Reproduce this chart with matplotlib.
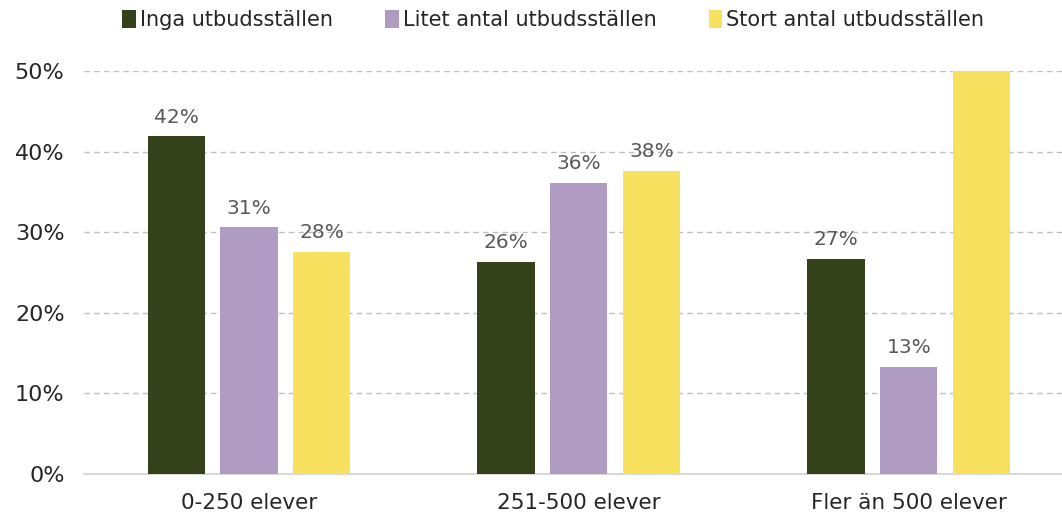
import numpy as np
import matplotlib.pyplot as plt
from matplotlib.ticker import PercentFormatter

categories = ['0-250 elever', '251-500 elever', 'Fler än 500 elever']
series = ['Inga utbudsställen', 'Litet antal utbudsställen', 'Stort antal utbudsställen']
inga = [0.419, 0.263, 0.267]
litet = [0.306, 0.361, 0.133]
stort = [0.276, 0.376, 0.60]
colors = ['#334218', '#b09cc2', '#f9e160']

plt.rcParams['font.family'] = 'DejaVu Sans'

fig = plt.figure(figsize=(10.62, 5.21), dpi=100)
ax = fig.add_axes([84 / 1062, 47 / 521, 1 - 84 / 1062, (474 - 71) / 521])

x = np.arange(len(categories))
width = 0.173
step = 0.221
ymax = 0.5

for i, (vals, name) in enumerate(zip([inga, litet, stort], series)):
    pos = x + (i - 1) * step
    ax.bar(pos, vals, width, color=colors[i], label=name, zorder=3)
    for px, v in zip(pos, vals):
        if v <= ymax:
            ax.text(px, v + 0.012, f'{v:.0%}', ha='center', va='bottom',
                    fontsize=14.5, color='#595959')

ax.set_ylim(0, ymax)
ax.set_xlim(-0.5, 2.464)
ax.set_yticks(np.arange(0, 0.51, 0.1))
ax.yaxis.set_major_formatter(PercentFormatter(1.0, decimals=0))
ax.set_xticks(x)
ax.set_xticklabels(categories)
ax.tick_params(axis='both', length=0, colors='#262626')
ax.tick_params(axis='y', pad=14, labelsize=16)
ax.tick_params(axis='x', pad=14, labelsize=15.5)

ax.grid(axis='y', linestyle=(0, (4, 3)), color='#bfbfbf', linewidth=1, zorder=0)
for s in ['top', 'right', 'left']:
    ax.spines[s].set_visible(False)
ax.spines['bottom'].set_color('#d9d9d9')
ax.spines['bottom'].set_linewidth(1.5)

ax.legend(loc='upper center', bbox_to_anchor=(0.48, 1.0 + 80 / 403), ncol=3,
          frameon=False, fontsize=15, handlelength=0.65, handleheight=1.0,
          handletextpad=0.2, columnspacing=2.5, labelcolor='#262626')

fig.savefig('out.png', dpi=100)
